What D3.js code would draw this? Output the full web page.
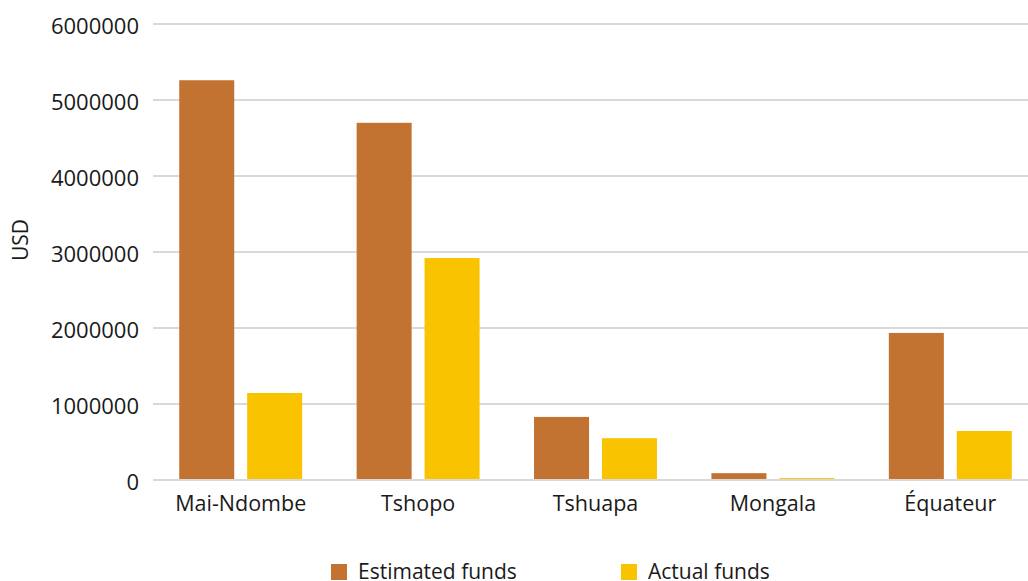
<!DOCTYPE html>
<html>
<head>
<meta charset="utf-8">
<script src="https://cdn.jsdelivr.net/npm/d3@7"></script>
<style>
  html, body { margin: 0; padding: 0; background: #fff; }
  svg { display: block; font-family: "Open Sans", "Noto Sans", sans-serif; }
</style>
</head>
<body>
<svg id="chart" width="1028" height="581"></svg>
<script>
// Provinces along the x axis
const provinces = ["Mai-Ndombe", "Tshopo", "Tshuapa", "Mongala", "Équateur"];
// Funding per province, USD
const estimatedFunds = [5260000, 4700000, 830000, 90000, 1935000];
const actualFunds = [1145000, 2920000, 550000, 25000, 645000];
// Series names and colours
const seriesNames = ["Estimated funds", "Actual funds"];
const seriesColors = ["#C37331", "#F9C300"];
// Y axis ticks
const yTicks = [0, 1000000, 2000000, 3000000, 4000000, 5000000, 6000000];

const svg = d3.select("#chart");
const W = 1028;
const plotLeft = 152, plotRight = 1039, plotTop = 24, plotBottom = 480;
const textColor = "#1a1a1a";

const rows = provinces.map((p, i) => ({
  province: p,
  values: [estimatedFunds[i], actualFunds[i]]
}));

const x0 = d3.scaleBand().domain(provinces).range([plotLeft, plotRight])
  .paddingInner(0.307).paddingOuter(0.1535);
const x1 = d3.scaleBand().domain(seriesNames).range([0, x0.bandwidth()])
  .paddingInner(0.19);
const y = d3.scaleLinear().domain([0, 6000000]).range([plotBottom, plotTop]);

// Horizontal gridlines (including the baseline)
svg.append("g")
  .selectAll("line")
  .data(yTicks)
  .join("line")
  .attr("x1", plotLeft + 1).attr("x2", W)
  .attr("y1", d => y(d)).attr("y2", d => y(d))
  .attr("stroke", "#d9d9d9").attr("stroke-width", 2);

// Y tick labels
const yAxis = svg.append("g")
  .attr("transform", `translate(${plotLeft},0)`)
  .call(d3.axisLeft(y).tickValues(yTicks).tickFormat(d3.format("d")).tickSize(0).tickPadding(13));
yAxis.select(".domain").remove();
yAxis.selectAll("text")
  .attr("font-size", 22).attr("fill", textColor)
  .attr("dy", "0.42em")
  .attr("font-family", "'Open Sans', sans-serif");

// Y axis title
svg.append("text")
  .attr("transform", "translate(28,240) rotate(-90)")
  .attr("text-anchor", "middle")
  .attr("font-size", 21).attr("fill", textColor)
  .text("USD");

// Bars
const groups = svg.append("g")
  .selectAll("g")
  .data(rows)
  .join("g")
  .attr("transform", d => `translate(${x0(d.province)},0)`);

groups.selectAll("rect")
  .data(d => d.values.map((v, k) => ({ key: seriesNames[k], value: v, color: seriesColors[k] })))
  .join("rect")
  .attr("x", d => x1(d.key))
  .attr("width", x1.bandwidth())
  .attr("y", d => y(d.value))
  .attr("height", d => y(0) - y(d.value) - 1)
  .attr("fill", d => d.color);

// X axis labels
const xAxis = svg.append("g")
  .attr("transform", `translate(0,${plotBottom})`)
  .call(d3.axisBottom(x0).tickSize(0));
xAxis.select(".domain").remove();
xAxis.selectAll("text")
  .attr("y", 31).attr("dy", 0)
  .attr("font-size", 21.5).attr("fill", textColor)
  .attr("font-family", "'Open Sans', sans-serif");

// Legend
const legendX = [331, 621];
const legend = svg.append("g")
  .selectAll("g")
  .data(seriesNames)
  .join("g")
  .attr("transform", (d, i) => `translate(${legendX[i]},564)`);
legend.append("rect")
  .attr("width", 16).attr("height", 16)
  .attr("fill", (d, i) => seriesColors[i]);
legend.append("text")
  .attr("x", 27).attr("y", 15)
  .attr("font-size", 21).attr("fill", textColor)
  .text(d => d);
</script>
</body>
</html>
